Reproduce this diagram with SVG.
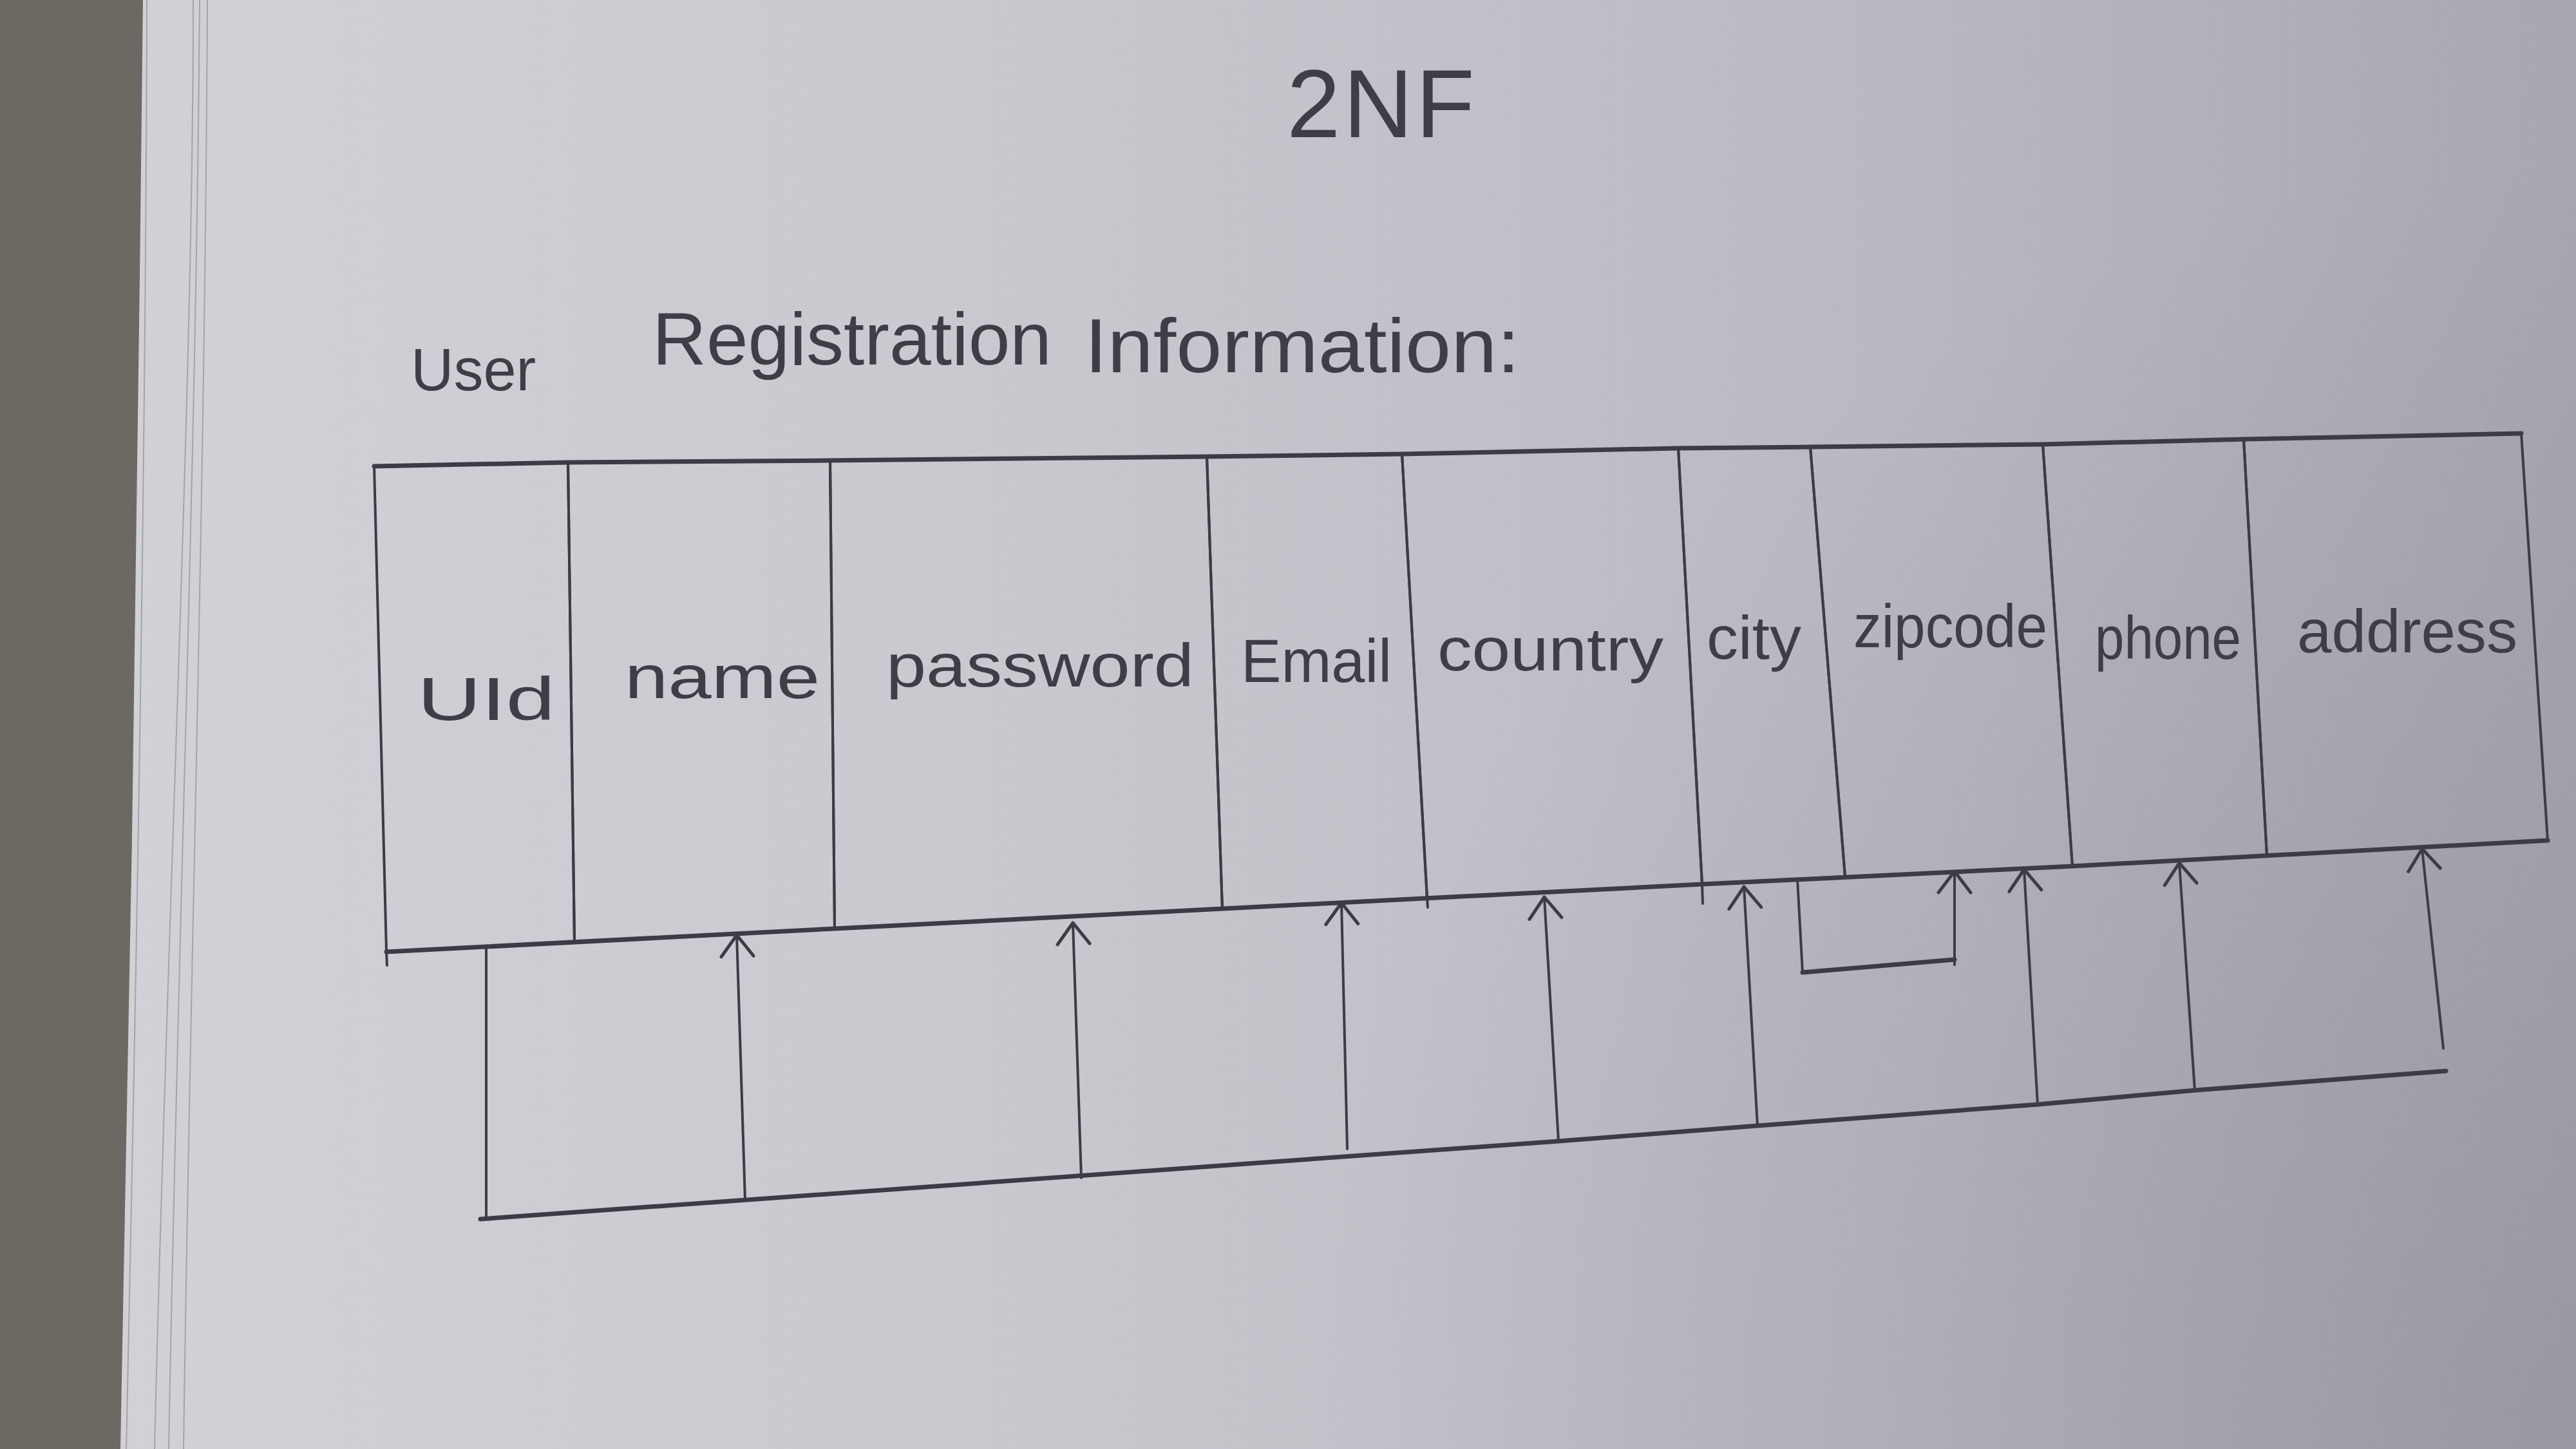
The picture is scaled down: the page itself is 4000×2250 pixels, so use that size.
<svg xmlns="http://www.w3.org/2000/svg" width="4000" height="2250" viewBox="0 0 4000 2250">
<defs>
<linearGradient id="paper" x1="0" y1="0" x2="1" y2="0">
<stop offset="0" stop-color="#d2d2d8"/>
<stop offset="0.4" stop-color="#c9c8cf"/>
<stop offset="0.75" stop-color="#b9b7c0"/>
<stop offset="1" stop-color="#a9a6b1"/>
</linearGradient>
<radialGradient id="shade" cx="4000" cy="2250" r="2000" gradientUnits="userSpaceOnUse">
<stop offset="0" stop-color="#7d7a87" stop-opacity="0.35"/>
<stop offset="1" stop-color="#7d7a87" stop-opacity="0"/>
</radialGradient>
<marker id="arrow" markerUnits="userSpaceOnUse" viewBox="-40 -32 50 64" markerWidth="50" markerHeight="64" refX="0" refY="0" orient="auto">
<path d="M-33,-25 L0,0 L-33,25" fill="none" stroke="#3d3b44" stroke-width="5" stroke-linecap="round" stroke-linejoin="round"/>
</marker>
</defs>
<style>
.ink{fill:none;stroke:#3d3b44;stroke-linecap:round;stroke-linejoin:round}
.cell{fill:none;stroke:#3d3b44;stroke-width:4}
.thick{stroke-width:7}
.thin{stroke-width:4}
.lbl{font-family:"Liberation Sans",Arial,sans-serif;font-size:95px;fill:#3f3d46}
.head{font-family:"Liberation Sans",Arial,sans-serif;fill:#3f3d46}
</style>

<!-- background photo -->
<rect x="0" y="0" width="4000" height="2250" fill="url(#paper)"/>
<rect x="0" y="0" width="4000" height="2250" fill="url(#shade)"/>
<polygon points="0,0 222,0 217,430 205,1300 187,2250 0,2250" fill="#6c6862"/>
<g fill="none" stroke="#a3a3aa" stroke-width="2">
<path d="M300,0 C300,600 260,1400 240,2250"/>
<path d="M310,0 C305,700 275,1500 262,2250"/>
<path d="M322,0 C318,800 295,1500 285,2250"/>
<path d="M228,0 C226,800 210,1600 196,2250"/>
</g>

<g id="title">
<text class="head" x="1998" y="213" font-size="150" textLength="292" lengthAdjust="spacing">2NF</text>
</g>
<g id="heading">
<text class="head"><tspan x="638" y="606" font-size="92">User</tspan><tspan x="1013" y="566" font-size="115" textLength="620" lengthAdjust="spacingAndGlyphs">Registration</tspan><tspan x="1684" y="578" font-size="118" textLength="676" lengthAdjust="spacingAndGlyphs">Information:</tspan></text>
</g>

<!-- table cells -->
<g id="col-uid">
<polygon class="cell" points="581,724 882,718 892,1463 600,1478"/>
<text class="lbl" x="648" y="1118" font-size="85" textLength="214" lengthAdjust="spacingAndGlyphs">UId</text>
</g>
<g id="col-name">
<polygon class="cell" points="882,718 1289,715 1296,1442 892,1463"/>
<text class="lbl" x="970" y="1084" textLength="303" lengthAdjust="spacingAndGlyphs">name</text>
</g>
<g id="col-password">
<polygon class="cell" points="1289,715 1874,709 1898,1411 1296,1442"/>
<text class="lbl" x="1376" y="1066" textLength="478" lengthAdjust="spacingAndGlyphs">password</text>
</g>
<g id="col-email">
<polygon class="cell" points="1874,709 2177,705 2216,1395 1898,1411"/>
<text class="lbl" x="1927" y="1059" textLength="234" lengthAdjust="spacingAndGlyphs">Email</text>
</g>
<g id="col-country">
<polygon class="cell" points="2177,705 2606,696 2643,1373 2216,1395"/>
<text class="lbl" x="2232" y="1041" textLength="351" lengthAdjust="spacingAndGlyphs">country</text>
</g>
<g id="col-city">
<polygon class="cell" points="2606,696 2811,694 2865,1361 2643,1373"/>
<text class="lbl" x="2650" y="1023" textLength="147" lengthAdjust="spacingAndGlyphs">city</text>
</g>
<g id="col-zipcode">
<polygon class="cell" points="2811,694 3172,690 3218,1345 2865,1361"/>
<text class="lbl" x="2878" y="1005" textLength="301" lengthAdjust="spacingAndGlyphs">zipcode</text>
</g>
<g id="col-phone">
<polygon class="cell" points="3172,690 3484,682 3520,1329 3218,1345"/>
<text class="lbl" x="3253" y="1023" textLength="227" lengthAdjust="spacingAndGlyphs">phone</text>
</g>
<g id="col-address">
<polygon class="cell" points="3484,682 3915,673 3956,1305 3520,1329"/>
<text class="lbl" x="3567" y="1013" textLength="342" lengthAdjust="spacingAndGlyphs">address</text>
</g>

<!-- table frame: heavier horizontal edges and overshoots -->
<g id="table-frame" class="ink">
<path class="thick" d="M581,724 L882,718 L1289,715 L1874,709 L2177,705 L2606,696 L2811,694 L3172,690 L3484,682 L3915,673"/>
<path class="thick" d="M600,1478 L1296,1442 L1898,1411 L2643,1373 L3218,1345 L3956,1305"/>
<path class="thin" d="M600,1478 L601,1499"/>
<path class="thin" d="M2643,1373 L2644,1403"/>
<path class="thin" d="M2216,1395 L2217,1409"/>
</g>

<!-- dependency connectors -->
<g id="connectors" class="ink">
<path class="thin" d="M755,1470 L755,1889"/>
<path class="thick" d="M746,1893 L1950,1806 L2420,1772 L2729,1748 L3164,1715 L3408,1693 L3798,1663"/>
<path class="thin" d="M1157,1864 L1144,1452" marker-end="url(#arrow)"/>
<path class="thin" d="M1679,1829 L1666,1433" marker-end="url(#arrow)"/>
<path class="thin" d="M2092,1784 L2083,1402" marker-end="url(#arrow)"/>
<path class="thin" d="M2420,1772 L2398,1393" marker-end="url(#arrow)"/>
<path class="thin" d="M2729,1748 L2708,1377" marker-end="url(#arrow)"/>
<path class="thin" d="M2791,1365 L2799,1510"/>
<path class="thick" d="M2799,1510 L3035,1490"/>
<path class="thin" d="M3035,1498 L3035,1353" marker-end="url(#arrow)"/>
<path class="thin" d="M3164,1715 L3143,1350" marker-end="url(#arrow)"/>
<path class="thin" d="M3408,1693 L3384,1340" marker-end="url(#arrow)"/>
<path class="thin" d="M3794,1628 L3761,1318" marker-end="url(#arrow)"/>
</g>
</svg>
